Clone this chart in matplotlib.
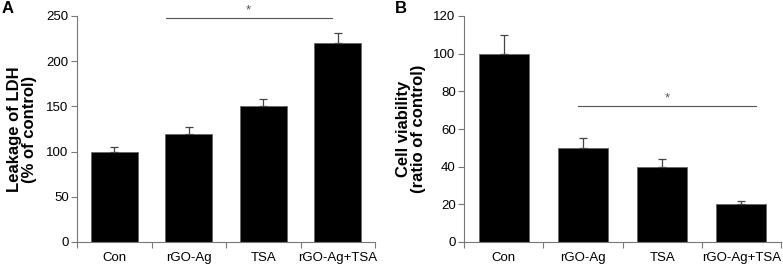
import matplotlib
matplotlib.use("Agg")
import matplotlib.pyplot as plt
from matplotlib.ticker import FixedLocator

plt.rcParams['font.family'] = ['Liberation Sans', 'DejaVu Sans']

categories = ["Con", "rGO-Ag", "TSA", "rGO-Ag+TSA"]
ldh_values = [100, 120, 150, 220]
ldh_errors = [5, 7, 8, 11]
viab_values = [100, 50, 40, 20]
viab_errors = [10, 5, 4, 2]

fig = plt.figure(figsize=(7.83, 2.65), dpi=100)
axA = fig.add_axes([77/783, 1-242/265, (375-77)/783, (242-16)/265])
axB = fig.add_axes([464/783, 1-242/265, (781-464)/783, (242-16)/265])

def style(ax, values, errors, ylim, yticks, ylabel, labelx):
    x = list(range(len(categories)))
    ax.bar(x, values, width=0.63, color='black', edgecolor='#666666', linewidth=0.6, zorder=2)
    ax.errorbar(x, values, yerr=[[0]*len(errors), errors], fmt='none', ecolor='#444444',
                elinewidth=0.9, capsize=3, capthick=0.9, zorder=3)
    ax.set_xlim(-0.5, 3.5)
    ax.set_ylim(*ylim)
    ax.set_yticks(yticks)
    ax.set_xticks(x)
    ax.set_xticklabels(categories, fontsize=9.5)
    ax.xaxis.set_minor_locator(FixedLocator([-0.5, 0.5, 1.5, 2.5, 3.5]))
    ax.tick_params(axis='x', which='major', length=0, pad=7)
    ax.tick_params(axis='x', which='minor', length=4, color='#777777', width=0.8)
    ax.tick_params(axis='y', length=4, color='#777777', width=0.8, labelsize=9.5, pad=2)
    for s in ['top', 'right']:
        ax.spines[s].set_visible(False)
    for s in ['left', 'bottom']:
        ax.spines[s].set_color('#777777')
        ax.spines[s].set_linewidth(0.8)
    ax.set_ylabel(ylabel, fontsize=12, fontweight='bold', linespacing=1.0)
    ax.yaxis.set_label_coords(labelx, 0.5)

style(axA, ldh_values, ldh_errors, (0, 250), [0, 50, 100, 150, 200, 250],
      "Leakage of LDH\n(% of control)", -0.134)
style(axB, viab_values, viab_errors, (0, 120), [0, 20, 40, 60, 80, 100, 120],
      "Cell viability\n(ratio of control)", -0.12)

# significance lines
axA.plot([0.69, 2.92], [248, 248], color='#555555', lw=0.8, clip_on=False)
axA.text(1.8, 249, "*", ha='center', va='bottom', fontsize=9.5, color='#555555', clip_on=False)
axB.plot([0.94, 3.18], [72, 72], color='#555555', lw=0.8, clip_on=False)
axB.text(2.06, 73, "*", ha='center', va='bottom', fontsize=9.5, color='#555555')

fig.text(2/783, 1-1/265, "A", fontsize=12, fontweight='bold', va='top', ha='left')
fig.text(395/783, 1-1/265, "B", fontsize=12, fontweight='bold', va='top', ha='left')

fig.savefig("out.png", dpi=100)
